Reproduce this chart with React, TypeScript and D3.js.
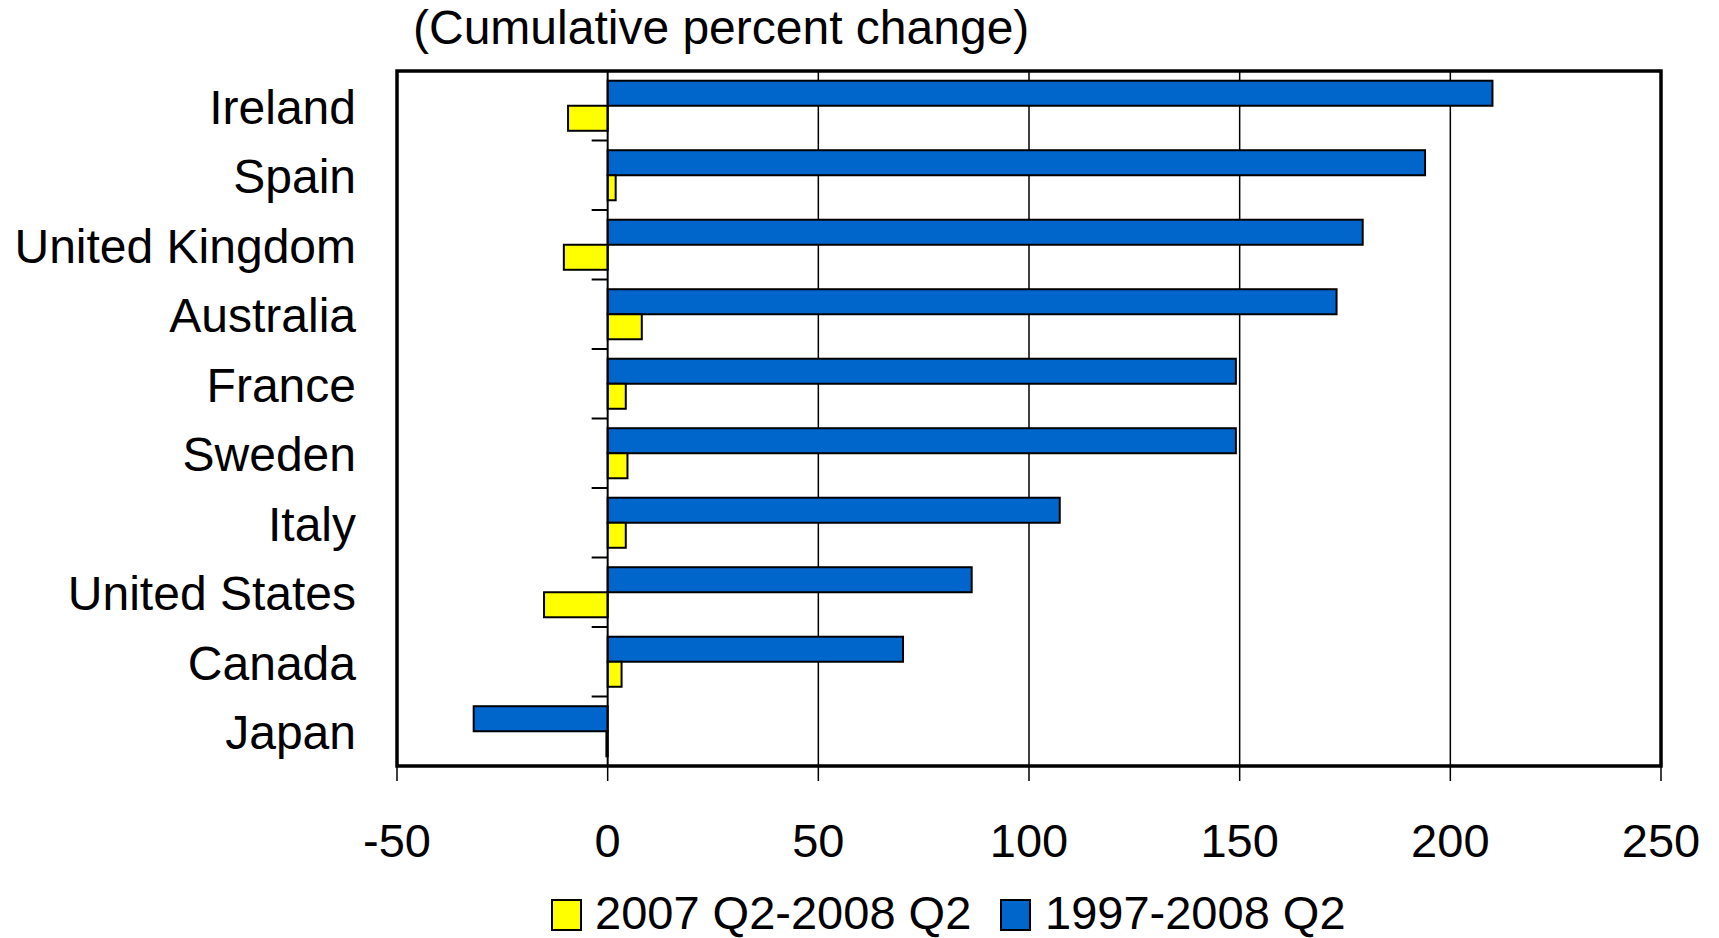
import React from 'react';
import * as d3 from 'd3';

// data
const countries = ['Ireland', 'Spain', 'United Kingdom', 'Australia', 'France', 'Sweden', 'Italy', 'United States', 'Canada', 'Japan'];
const longRun = [210, 194, 179.2, 173, 149.1, 149.1, 107.3, 86.4, 70.1, -31.8];
const lastYear = [-9.4, 1.9, -10.4, 8.1, 4.3, 4.7, 4.3, -15.1, 3.3, -0.3];
const xTicks = [-50, 0, 50, 100, 150, 200, 250];
const seriesNames = ['1997-2008 Q2', '2007 Q2-2008 Q2'];
const seriesColors = ['#0066CC', '#FFFF00'];

const W = 1719, H = 938;
const margin = { top: 71, right: 58, bottom: 172, left: 397 };
const font = '"Liberation Sans", Arial, sans-serif';

export default function App() {
  const x = d3.scaleLinear().domain([-50, 250]).range([margin.left, W - margin.right]);
  const y0 = d3.scaleBand().domain(countries).range([margin.top, H - margin.bottom]).padding(0);
  const bw = y0.bandwidth();
  const y1 = d3.scaleBand().domain(seriesNames).range([bw * 0.14, bw * 0.86]).padding(0);
  const bottom = H - margin.bottom;
  const rows = countries.map((c, i) => ({ c, vals: [longRun[i], lastYear[i]] }));

  return (
    <svg width={W} height={H} style={{ position: 'absolute', left: 0, top: 0, background: '#fff' }} fontFamily={font}>
      <text x={413} y={44} fontSize={48}>(Cumulative percent change)</text>

      {/* gridlines */}
      {xTicks.filter(t => t > 0 && t < 250).map(t => (
        <line key={t} x1={x(t)} x2={x(t)} y1={margin.top} y2={bottom} stroke="#000" strokeWidth={1.5} />
      ))}

      {/* bars */}
      {rows.map(r => (
        <g key={r.c} transform={`translate(0,${y0(r.c)})`}>
          {r.vals.map((v, j) => (
            <rect key={j}
              x={x(Math.min(0, v))}
              y={y1(seriesNames[j])}
              width={Math.abs(x(v) - x(0))}
              height={y1.bandwidth()}
              fill={seriesColors[j]} stroke="#000" strokeWidth={2} />
          ))}
        </g>
      ))}

      {/* category axis at zero */}
      <line x1={x(0)} x2={x(0)} y1={margin.top} y2={bottom} stroke="#000" strokeWidth={2} />
      {countries.slice(1).map(c => (
        <line key={c} x1={x(0) - 16} x2={x(0)} y1={y0(c)} y2={y0(c)} stroke="#000" strokeWidth={2} />
      ))}

      {/* frame */}
      <rect x={x(-50)} y={margin.top} width={x(250) - x(-50)} height={bottom - margin.top} fill="none" stroke="#000" strokeWidth={3.5} />

      {/* x ticks */}
      {xTicks.map(t => (
        <g key={t}>
          <line x1={x(t)} x2={x(t)} y1={bottom} y2={bottom + 15} stroke="#000" strokeWidth={1.5} />
          <text x={x(t)} y={857} fontSize={47} textAnchor="middle">{t}</text>
        </g>
      ))}

      {/* category labels */}
      {countries.map(c => (
        <text key={c} x={356} y={(y0(c) as number) + bw / 2 + 18} fontSize={48} textAnchor="end">{c}</text>
      ))}

      {/* legend */}
      <rect x={552} y={900} width={29} height={30} fill={seriesColors[1]} stroke="#000" strokeWidth={2} />
      <text x={595} y={929} fontSize={47}>{seriesNames[1]}</text>
      <rect x={1001} y={900} width={29} height={30} fill={seriesColors[0]} stroke="#000" strokeWidth={2} />
      <text x={1045} y={929} fontSize={47}>{seriesNames[0]}</text>
    </svg>
  );
}
